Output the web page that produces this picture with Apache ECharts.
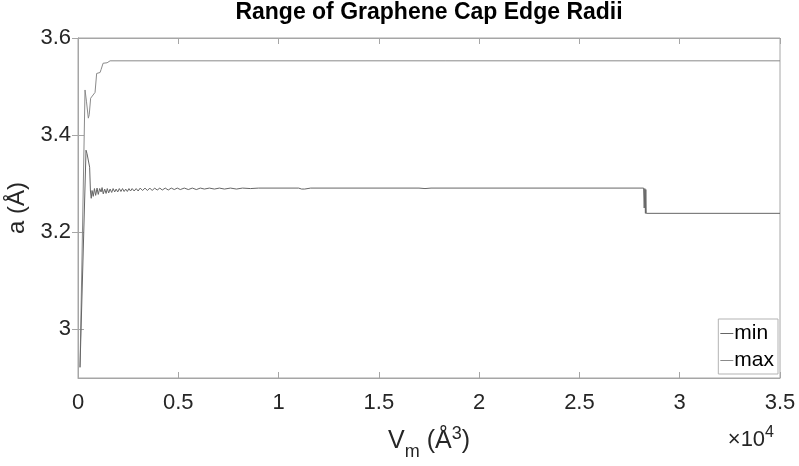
<!DOCTYPE html>
<html>
<head>
<meta charset="utf-8">
<script src="https://cdn.jsdelivr.net/npm/echarts@6/dist/echarts.min.js"></script>
<style>
  html, body { margin: 0; padding: 0; background: #fff; }
  #chart { width: 799px; height: 466px; }
</style>
</head>
<body>
<div id="chart"></div>
<script>
// Cap volume V_m (Å^3) and edge radius a (Å) for the smallest edge radius
const minV = [100, 400, 450, 520, 580, 620, 660, 700, 760, 820, 880, 950, 1010, 1080, 1150, 1200, 1260,
  1330, 1400, 1460, 1530, 1600, 1680, 1750, 1830, 1900, 1980, 2060, 2140, 2220, 2300, 2380, 2460,
  2540, 2620, 2700, 2800, 2900, 3000, 3100, 3220, 3340, 3460, 3580, 3700, 3820, 3950, 4080, 4200,
  4350, 4500, 4650, 4800, 4950, 5100, 5300, 5500, 5700, 5900, 6100, 6300, 6550, 6800, 7050, 7300,
  7600, 7900, 8200, 8600, 9000, 11000, 11150, 11300, 11600, 17000, 17300, 17600, 28200, 28230,
  28260, 28290, 28310, 28330, 35000];
const minA = [2.922, 3.369, 3.362, 3.358, 3.334, 3.285, 3.270, 3.286, 3.274, 3.290, 3.276, 3.291, 3.278, 3.290, 3.283, 3.292, 3.279,
  3.289, 3.280, 3.290, 3.281, 3.289, 3.282, 3.290, 3.283, 3.289, 3.283, 3.290, 3.284, 3.290, 3.284, 3.289, 3.284,
  3.290, 3.285, 3.290, 3.285, 3.290, 3.285, 3.291, 3.286, 3.291, 3.286, 3.291, 3.286, 3.291, 3.287, 3.291, 3.287,
  3.291, 3.287, 3.291, 3.288, 3.291, 3.288, 3.291, 3.288, 3.291, 3.288, 3.291, 3.289, 3.291, 3.289, 3.291, 3.289,
  3.291, 3.289, 3.291, 3.290, 3.291, 3.291, 3.289, 3.289, 3.291, 3.291, 3.290, 3.291, 3.291, 3.250,
  3.290, 3.239, 3.288, 3.239, 3.239];

// Largest edge radius
const maxV = [100, 350, 420, 515, 560, 630, 700, 850, 900, 930, 1100, 1150, 1250, 1450, 1600, 35000];
const maxA = [2.922, 3.493, 3.470, 3.435, 3.442, 3.476, 3.477, 3.488, 3.490, 3.527, 3.529, 3.535, 3.548, 3.549, 3.553, 3.553];

const seriesNames = ['min', 'max'];
const yTicks = [3, 3.2, 3.4, 3.6];

const pairs = (xs, ys) => xs.map((x, i) => [x, ys[i]]);

const FONT = '"Liberation Sans", Arial, Helvetica, sans-serif';
const AXIS_GRAY = '#a6a6a6';
const TEXT = '#262626';

const GRID = { left: 78, right: 19, top: 38, bottom: 88 };
const plotCenterX = GRID.left + (799 - GRID.left - GRID.right) / 2;

const chart = echarts.init(document.getElementById('chart'), null, { renderer: 'canvas' });

const hiddenLabel = { show: false };
const tickIn = { show: true, inside: true, length: 6, lineStyle: { color: AXIS_GRAY } };

chart.setOption({
  animation: false,
  backgroundColor: '#fff',
  grid: Object.assign({
    show: true, borderColor: AXIS_GRAY, borderWidth: 1, backgroundColor: '#fff',
    containLabel: false, outerBoundsMode: 'none'
  }, GRID),
  legend: {
    data: seriesNames,
    orient: 'vertical',
    right: 21,
    bottom: 92,
    itemWidth: 13,
    itemHeight: 1,
    itemGap: 6,
    padding: [4, 4, 3, 2],
    borderColor: '#b3b3b3',
    borderWidth: 1,
    backgroundColor: '#fff',
    icon: 'rect',
    textStyle: { fontFamily: FONT, fontSize: 21, color: '#000', padding: [0, 0, 0, -4] }
  },
  xAxis: [{
    type: 'value',
    min: 0, max: 35000, interval: 5000,
    name: '{v|V}{sub|m}{v| (Å}{sup|3}{v|)}',
    nameLocation: 'middle',
    nameGap: 50,
    nameTextStyle: {
      fontFamily: FONT, color: TEXT,
      rich: {
        v: { fontFamily: FONT, fontSize: 25, color: TEXT, lineHeight: 26 },
        sub: { fontFamily: FONT, fontSize: 18, color: TEXT, lineHeight: 18, padding: [22, 0, 0, 0] },
        sup: { fontFamily: FONT, fontSize: 18, color: TEXT, lineHeight: 18, padding: [0, 0, 14, 0] }
      }
    },
    axisLine: { show: true, lineStyle: { color: AXIS_GRAY } },
    axisTick: tickIn,
    splitLine: { show: false },
    axisLabel: {
      fontFamily: FONT, fontSize: 22, color: TEXT, margin: 14,
      formatter: v => String(+(v / 1e4).toFixed(1))
    }
  }, {
    type: 'value', position: 'top',
    min: 0, max: 35000, interval: 5000,
    axisLine: { show: true, lineStyle: { color: AXIS_GRAY } },
    axisTick: tickIn, axisLabel: hiddenLabel, splitLine: { show: false }
  }],
  yAxis: [{
    type: 'value',
    min: 2.9, max: 3.6,
    name: 'a (Å)',
    nameLocation: 'middle',
    nameGap: 39,
    nameTextStyle: { fontFamily: FONT, fontSize: 24, color: TEXT },
    axisLine: { show: true, lineStyle: { color: AXIS_GRAY } },
    axisTick: Object.assign({ customValues: yTicks }, tickIn),
    splitLine: { show: false },
    axisLabel: {
      fontFamily: FONT, fontSize: 22, color: TEXT, margin: 7,
      customValues: yTicks,
      formatter: v => String(+v.toFixed(1))
    }
  }, {
    type: 'value', position: 'right',
    min: 2.9, max: 3.6,
    axisLine: { show: true, lineStyle: { color: AXIS_GRAY } },
    axisTick: Object.assign({ customValues: yTicks }, tickIn),
    axisLabel: { show: false, customValues: yTicks }, splitLine: { show: false }
  }],
  graphic: [{
    type: 'text',
    x: plotCenterX,
    y: 13,
    style: {
      text: 'Range of Graphene Cap Edge Radii',
      align: 'center',
      verticalAlign: 'middle',
      fontFamily: FONT, fontSize: 23, fontWeight: 'bold', fill: '#000'
    }
  }, {
    type: 'text',
    right: 25,
    top: 425,
    style: {
      text: '{x|×}{t|10}{s|4}',
      rich: {
        x: { fontFamily: FONT, fontSize: 22, fill: TEXT },
        t: { fontFamily: FONT, fontSize: 22, fill: TEXT },
        s: { fontFamily: FONT, fontSize: 16, fill: TEXT, padding: [0, 0, 13, 0] }
      }
    }
  }],
  series: [{
    name: seriesNames[0],
    type: 'line',
    data: pairs(minV, minA),
    showSymbol: false,
    symbol: 'none',
    color: '#666666',
    lineStyle: { width: 1, color: '#666666' },
    z: 3
  }, {
    name: seriesNames[1],
    type: 'line',
    data: pairs(maxV, maxA),
    showSymbol: false,
    symbol: 'none',
    color: '#8a8a8a',
    lineStyle: { width: 1, color: '#8a8a8a' },
    z: 2
  }]
});
</script>
</body>
</html>
